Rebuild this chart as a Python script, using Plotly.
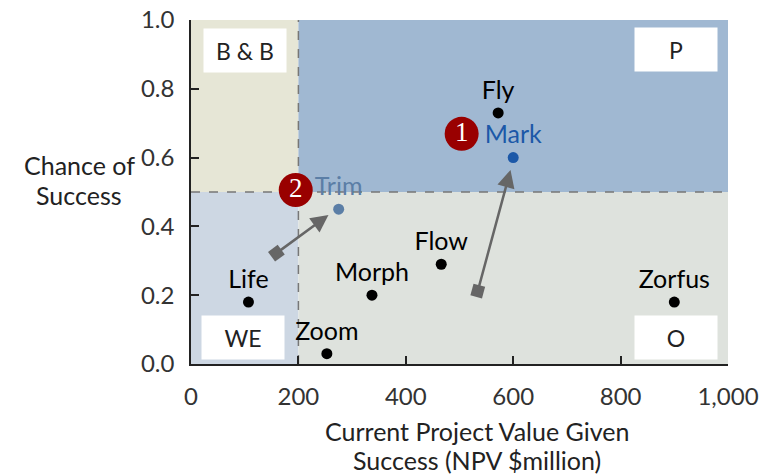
import math
import plotly.graph_objects as go

# ---- data ----
names = ["Fly", "Life", "Morph", "Flow", "Zoom", "Zorfus"]
npv = [572, 107, 337, 466, 253, 900]
chance = [0.73, 0.18, 0.20, 0.29, 0.03, 0.18]

hl_names = ["Mark", "Trim"]
hl_npv = [600, 275]
hl_chance = [0.60, 0.45]
hl_colors = ["#1c58a8", "#5b7ea6"]

# arrows: from (x0,y0) to (x1,y1)
arrow_x0 = [534, 159]
arrow_y0 = [0.212, 0.322]
arrow_x1 = [595, 256]
arrow_y1 = [0.564, 0.433]

badge_labels = ["1", "2"]
badge_x = [504, 195]
badge_y = [0.669, 0.506]

quad_labels = ["B & B", "P", "WE", "O"]
quad_x = [101, 904, 96, 904]
quad_y = [0.912, 0.913, 0.078, 0.078]

x_ticks = [0, 200, 400, 600, 800, 1000]
y_ticks = [0.0, 0.2, 0.4, 0.6, 0.8, 1.0]

x_title_lines = ["Current Project Value Given", "Success (NPV $million)"]
y_title_lines = ["Chance of", "Success"]

FONT = "Lato"
W, H = 776, 474
ML, MR, MT, MB = 191, 48, 20, 110
PW, PH = W - ML - MR, H - MT - MB
XR, YR = [0, 1000], [0, 1]


def px_x(p):
    return (p - ML) / PW


def px_y(p):
    return (H - MB - p) / PH


fig = go.Figure()

# quadrant backgrounds
regions = [
    (0, 200, 0.5, 1.0, "#e6e6d6"),
    (200, 1000, 0.5, 1.0, "#a0b8d2"),
    (0, 200, 0.0, 0.5, "#cdd7e3"),
    (200, 1000, 0.0, 0.5, "#dee2dd"),
]
for x0, x1, y0, y1, c in regions:
    fig.add_shape(type="rect", x0=x0, x1=x1, y0=y0, y1=y1, xref="x", yref="y",
                  fillcolor=c, line=dict(width=0), layer="below")
fig.add_shape(type="line", x0=200, x1=200, y0=0, y1=1, xref="x", yref="y",
              line=dict(color="#777777", width=1.5, dash="dash"), layer="below")
fig.add_shape(type="line", x0=0, x1=1000, y0=0.5, y1=0.5, xref="x", yref="y",
              line=dict(color="#777777", width=1.5, dash="dash"), layer="below")

# arrows (line + head)
for x0, y0, x1, y1 in zip(arrow_x0, arrow_y0, arrow_x1, arrow_y1):
    fig.add_annotation(x=x1, y=y1, ax=x0, ay=y0, xref="x", yref="y",
                       axref="x", ayref="y", text="", showarrow=True,
                       arrowhead=2, arrowsize=1.4, arrowwidth=2.5,
                       arrowcolor="#666666")

# square tails, rotated along arrow direction
angles = []
for x0, y0, x1, y1 in zip(arrow_x0, arrow_y0, arrow_x1, arrow_y1):
    dx = (x1 - x0) / (XR[1] - XR[0]) * PW
    dy = (y1 - y0) / (YR[1] - YR[0]) * PH
    angles.append(-math.degrees(math.atan2(dy, dx)))
fig.add_trace(go.Scatter(
    x=arrow_x0, y=arrow_y0, mode="markers",
    marker=dict(symbol="square", size=12, color="#666666", angle=angles),
    hoverinfo="skip", showlegend=False))

# projects
fig.add_trace(go.Scatter(
    x=npv, y=chance, mode="markers+text", text=names, textposition="top center",
    marker=dict(color="black", size=11),
    textfont=dict(family=FONT, size=25, color="black"),
    cliponaxis=False, hoverinfo="skip", showlegend=False))

fig.add_trace(go.Scatter(
    x=hl_npv, y=hl_chance, mode="markers+text", text=hl_names, textposition="top center",
    marker=dict(color=hl_colors, size=11),
    textfont=dict(family=FONT, size=25, color=hl_colors),
    cliponaxis=False, hoverinfo="skip", showlegend=False))

# red badges
fig.add_trace(go.Scatter(
    x=badge_x, y=badge_y, mode="markers+text", text=badge_labels,
    textposition="middle center",
    marker=dict(color="#990000", size=34),
    textfont=dict(family="Liberation Serif", size=27, color="white"),
    cliponaxis=False, hoverinfo="skip", showlegend=False))

# quadrant labels
for t, x, y in zip(quad_labels, quad_x, quad_y):
    fig.add_annotation(x=x, y=y, xref="x", yref="y", text=t, showarrow=False,
                       bgcolor="white", width=80, height=41,
                       font=dict(family=FONT, size=23, color="#222222"))

# axis titles, one annotation per line
for i, t in enumerate(y_title_lines):
    fig.add_annotation(x=px_x(79), y=px_y(165 + 30 * i), xref="paper", yref="paper",
                       xanchor="center", yanchor="middle", text=t, showarrow=False,
                       font=dict(family=FONT, size=25, color="#222222"))
for i, t in enumerate(x_title_lines):
    fig.add_annotation(x=px_x(477), y=px_y(431 + 29 * i), xref="paper", yref="paper",
                       xanchor="center", yanchor="middle", text=t, showarrow=False,
                       font=dict(family=FONT, size=25, color="#222222"))

fig.update_layout(
    width=W, height=H,
    margin=dict(l=ML, r=MR, t=MT, b=MB),
    plot_bgcolor="white", paper_bgcolor="white",
    font=dict(family=FONT, size=20, color="#333333"),
    xaxis=dict(range=XR, tickvals=x_ticks, tickformat=",", showgrid=False,
               zeroline=False, showline=True, linecolor="#222222", linewidth=1.5,
               ticks="inside", ticklen=8, tickcolor="#222222", tickwidth=1.5,
               ticklabelstandoff=10, automargin=False,
               tickfont=dict(family=FONT, size=24, color="#333333")),
    yaxis=dict(range=YR, tickvals=y_ticks, tickformat=".1f", showgrid=False,
               zeroline=False, showline=True, linecolor="#222222", linewidth=1.5,
               ticks="inside", ticklen=8, tickcolor="#222222", tickwidth=1.5,
               ticklabelstandoff=10, automargin=False,
               tickfont=dict(family=FONT, size=24, color="#333333")),
)

fig.write_html("out.html", config={"displayModeBar": False},
               post_script="document.body.style.margin='0';")
